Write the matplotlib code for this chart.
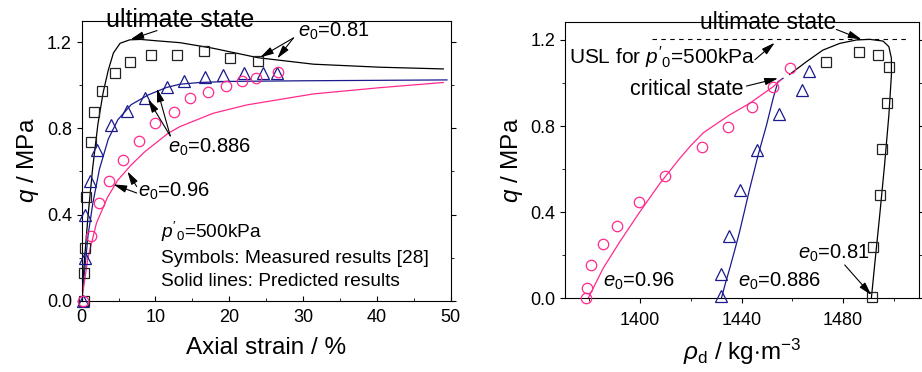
import numpy as np
import matplotlib.pyplot as plt
from matplotlib.ticker import MultipleLocator

plt.rcParams['font.family'] = ['Liberation Sans', 'DejaVu Sans']
plt.rcParams['mathtext.fontset'] = 'custom'
plt.rcParams['mathtext.rm'] = 'Liberation Sans'
plt.rcParams['mathtext.it'] = 'Liberation Sans:italic'

NAVY = '#1a1a8c'
PINK = '#ff2a8c'

# ---- left panel: q vs axial strain, measured
eps_sq = [0.3, 0.35, 0.45, 0.6, 1.2, 1.7, 2.75, 4.5, 6.5, 9.4, 12.9, 16.6, 20.1, 23.9]
q_sq = [0.0, 0.13, 0.245, 0.48, 0.737, 0.878, 0.975, 1.058, 1.108, 1.141, 1.141, 1.157, 1.125, 1.115]
eps_tri = [0.15, 0.45, 0.5, 1.15, 2.12, 3.95, 6.1, 8.6, 11.5, 13.8, 16.7, 19.2, 22.0, 24.6, 26.5]
q_tri = [0.0, 0.2, 0.4, 0.557, 0.7, 0.816, 0.881, 0.94, 0.99, 1.022, 1.04, 1.048, 1.056, 1.056, 1.056]
eps_cir = [0.15, 1.2, 2.35, 3.75, 5.65, 7.8, 9.95, 12.5, 14.7, 17.1, 19.6, 21.7, 23.6, 26.6]
q_cir = [0.0, 0.3, 0.452, 0.557, 0.655, 0.743, 0.826, 0.878, 0.94, 0.97, 0.997, 1.018, 1.036, 1.06]

# predicted
eps_p081 = [0, 0.4, 0.85, 1.5, 2.2, 2.9, 3.6, 4.3, 5.2, 6.5, 8, 10, 13.3, 17.8, 23.9, 31.4, 40.4, 49]
q_p081 = [0, 0.2, 0.39, 0.62, 0.82, 0.965, 1.07, 1.15, 1.195, 1.211, 1.213, 1.207, 1.198, 1.172, 1.128,
          1.098, 1.084, 1.076]
eps_p0886 = [0, 0.4, 0.85, 1.5, 2.4, 3.6, 4.9, 6.7, 9.0, 11.5, 13.3, 16, 20, 30, 40, 49.5]
q_p0886 = [0, 0.14, 0.30, 0.45, 0.61, 0.75, 0.84, 0.91, 0.955, 0.99, 1.005, 1.013, 1.018, 1.021, 1.023, 1.025]
eps_p096 = [0, 0.85, 2.0, 3.5, 4.9, 6.7, 8.5, 11.7, 13.3, 17.8, 22.4, 31.4, 40.4, 49]
q_p096 = [0, 0.2, 0.36, 0.48, 0.56, 0.63, 0.69, 0.777, 0.808, 0.87, 0.909, 0.96, 0.989, 1.013]

# ---- right panel: q vs dry density, measured
rho_sq = [1491.3, 1491.8, 1494.4, 1495.4, 1497.2, 1498.2, 1493.9, 1486.1, 1473.4]
qr_sq = [0.005, 0.238, 0.478, 0.695, 0.905, 1.076, 1.131, 1.144, 1.097]
rho_tri = [1432.0, 1432.0, 1435.0, 1439.2, 1446.0, 1454.9, 1463.7, 1466.6]
qr_tri = [0.01, 0.111, 0.291, 0.501, 0.688, 0.856, 0.966, 1.057]
rho_cir = [1378.5, 1378.9, 1380.8, 1385.4, 1391.0, 1399.4, 1409.9, 1424.3, 1434.8, 1444.1, 1452.4, 1459.1]
qr_cir = [0.003, 0.05, 0.155, 0.252, 0.335, 0.447, 0.569, 0.705, 0.795, 0.887, 0.983, 1.068]

# predicted
rho_p081 = [1491.1, 1492.4, 1494.4, 1496.3, 1498.0, 1499.0, 1499.0, 1498.0, 1495.7, 1490.4, 1485.2,
            1478.6, 1472.0, 1465.5, 1458.9]
qr_p081 = [0, 0.155, 0.387, 0.619, 0.851, 1.037, 1.115, 1.169, 1.195, 1.203, 1.2,
           1.184, 1.153, 1.099, 1.04]
rho_p0886 = [1432.0, 1433.6, 1435.3, 1437.3, 1439.2, 1441.2, 1443.2, 1444.9, 1446.5, 1449.8, 1452.4,
             1454.3, 1456.3]
qr_p0886 = [0, 0.07, 0.139, 0.225, 0.31, 0.41, 0.511, 0.59, 0.666, 0.805, 0.929, 1.006, 1.022]
rho_p096 = [1379.5, 1385.4, 1392.0, 1399.9, 1407.8, 1415.6, 1420, 1425, 1435, 1443.2, 1452.4, 1455.5]
qr_p096 = [0, 0.139, 0.263, 0.402, 0.534, 0.65, 0.71, 0.77, 0.85, 0.906, 0.983, 1.015]

usl_rho = [1404.5, 1505]
usl_q = [1.203, 1.203]

fig = plt.figure(figsize=(9.22, 3.72), dpi=100)
ax1 = fig.add_axes([0.0886, 0.1917, 0.4002, 0.7527])
ax2 = fig.add_axes([0.6131, 0.1981, 0.3840, 0.7436])

lw = 0.9
mk = dict(linestyle='none', markerfacecolor='none', markeredgewidth=0.9, clip_on=False, zorder=3)

# left
ax1.plot(eps_p081, q_p081, color='k', lw=lw)
ax1.plot(eps_p0886, q_p0886, color=NAVY, lw=lw)
ax1.plot(eps_p096, q_p096, color=PINK, lw=lw)
ax1.plot(eps_sq, q_sq, marker='s', ms=6.5, markeredgecolor='#222222', **mk)
ax1.plot(eps_tri, q_tri, marker='^', ms=8.5, markeredgecolor=NAVY, **mk)
ax1.plot(eps_cir, q_cir, marker='o', ms=7.5, markeredgecolor=PINK, **mk)

ax1.set_xlim(0, 50)
ax1.set_ylim(0, 1.3)
ax1.xaxis.set_major_locator(MultipleLocator(10))
ax1.xaxis.set_minor_locator(MultipleLocator(5))
ax1.yaxis.set_major_locator(MultipleLocator(0.4))
ax1.yaxis.set_minor_locator(MultipleLocator(0.2))
ax1.yaxis.set_major_formatter(plt.FormatStrFormatter('%.1f'))
ax1.tick_params(axis='x', which='both', direction='in', labelsize=13, pad=6)
ax1.tick_params(axis='y', which='both', direction='out', right=True, labelsize=13)
ax1.tick_params(axis='y', which='both', labelright=False)
ax1.set_xlabel('Axial strain / %', fontsize=17.5, labelpad=8)
ax1.set_ylabel('$q$ / MPa', fontsize=17.5, labelpad=4)

arw = dict(arrowstyle='-|>,head_length=0.8,head_width=0.22', color='k', lw=0.8,
           shrinkA=0, shrinkB=0, mutation_scale=10)
ax1.text(3.3, 1.27, 'ultimate state', fontsize=18)
ax1.annotate('', xy=(6.6, 1.213), xytext=(10.2, 1.254), arrowprops=arw, annotation_clip=False)
ax1.text(29.3, 1.226, '$e_0$=0.81', fontsize=14.5)
ax1.annotate('', xy=(24.2, 1.13), xytext=(28.7, 1.22), arrowprops=arw)
ax1.annotate('', xy=(26.5, 1.125), xytext=(28.7, 1.22), arrowprops=arw)
ax1.text(11.7, 0.685, '$e_0$=0.886', fontsize=14.5)
ax1.annotate('', xy=(9.0, 0.935), xytext=(12.0, 0.765), arrowprops=arw)
ax1.annotate('', xy=(10.2, 0.985), xytext=(12.0, 0.765), arrowprops=arw)
ax1.text(7.67, 0.483, '$e_0$=0.96', fontsize=14.5)
ax1.annotate('', xy=(4.3, 0.54), xytext=(7.45, 0.50), arrowprops=arw)
ax1.annotate('', xy=(6.2, 0.6), xytext=(7.45, 0.53), arrowprops=arw)
ax1.text(10.8, 0.293, "$p'_0$=500kPa", fontsize=13.8)
ax1.text(10.8, 0.174, 'Symbols: Measured results [28]', fontsize=13.8)
ax1.text(10.8, 0.068, 'Solid lines: Predicted results', fontsize=13.8)

# right
ax2.plot(usl_rho, usl_q, color='k', lw=0.8, linestyle=(0, (4, 4)))
ax2.plot(rho_p081, qr_p081, color='k', lw=lw)
ax2.plot(rho_p0886, qr_p0886, color=NAVY, lw=lw)
ax2.plot(rho_p096, qr_p096, color=PINK, lw=lw)
ax2.plot(rho_sq, qr_sq, marker='s', ms=6.5, markeredgecolor='#222222', **mk)
ax2.plot(rho_tri, qr_tri, marker='^', ms=8.5, markeredgecolor=NAVY, **mk)
ax2.plot(rho_cir, qr_cir, marker='o', ms=7.5, markeredgecolor=PINK, **mk)

ax2.set_xlim(1370.5, 1510)
ax2.set_ylim(0, 1.285)
ax2.xaxis.set_major_locator(MultipleLocator(40))
ax2.xaxis.set_minor_locator(MultipleLocator(20))
ax2.yaxis.set_major_locator(MultipleLocator(0.4))
ax2.yaxis.set_minor_locator(MultipleLocator(0.2))
ax2.yaxis.set_major_formatter(plt.FormatStrFormatter('%.1f'))
ax2.tick_params(axis='x', which='both', direction='out', labelsize=13, pad=6)
ax2.tick_params(axis='y', which='both', direction='out', right=True, labelsize=13)
ax2.set_xlabel(r'$\rho_\mathrm{d}$ / kg$\cdot$m$^{-3}$', fontsize=17.5, labelpad=6)
ax2.set_ylabel('$q$ / MPa', fontsize=17.5, labelpad=4)

ax2.text(1423.5, 1.249, 'ultimate state', fontsize=16.5)
ax2.annotate('', xy=(1487.2, 1.203), xytext=(1477.3, 1.249), arrowprops=arw)
ax2.text(1372.1, 1.088, "USL for $p'_0$=500kPa", fontsize=15)
ax2.annotate('', xy=(1453.0, 1.187), xytext=(1445.2, 1.108), arrowprops=arw)
ax2.text(1395.9, 0.944, 'critical state', fontsize=15.5)
ax2.annotate('', xy=(1454.3, 1.022), xytext=(1441.9, 0.986), arrowprops=arw)
ax2.text(1462.2, 0.186, '$e_0$=0.81', fontsize=14.5)
ax2.annotate('', xy=(1491.1, 0.015), xytext=(1480.6, 0.155), arrowprops=arw)
ax2.text(1385.4, 0.054, '$e_0$=0.96', fontsize=14.5)
ax2.text(1438.6, 0.054, '$e_0$=0.886', fontsize=14.5)

fig.savefig('out.png', dpi=100)
